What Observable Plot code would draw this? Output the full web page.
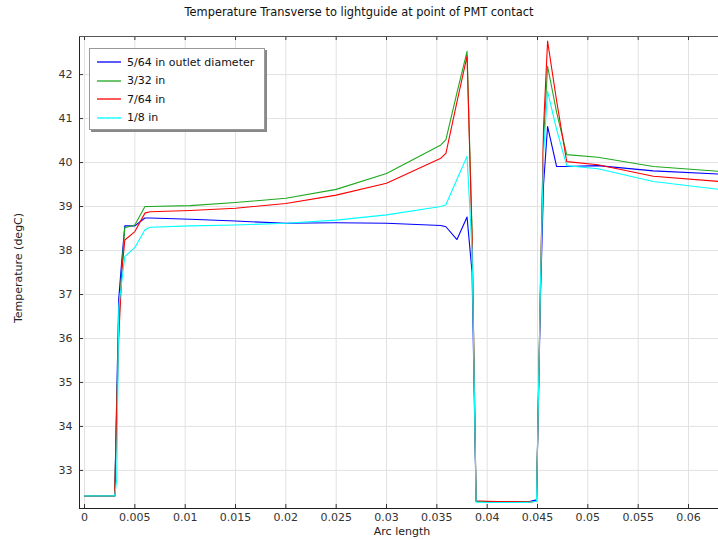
<!DOCTYPE html>
<html><head><meta charset="utf-8">
<script src="https://cdn.jsdelivr.net/npm/d3@7"></script>
<script src="https://cdn.jsdelivr.net/npm/@observablehq/plot@0.6"></script>
<style>
body{margin:0;background:#fff;font-family:"DejaVu Sans",sans-serif;}
#chart{position:relative;width:718px;height:540px;overflow:hidden;}
.lbl{position:absolute;font-size:11px;color:#222;white-space:nowrap;line-height:13px;}
#legend{position:absolute;left:89px;top:48px;width:174px;height:80px;background:#fff;border:1px solid #999;box-shadow:2px 2px 0 #888;}
.row{position:absolute;left:7px;height:14px;font-size:11px;color:#111;display:flex;align-items:center;white-space:nowrap;}
.row svg{margin-right:6px;}
</style></head><body><div id="chart"></div>
<script>
// Arc length (shared grid)
const arcLength = [0, 0.003, 0.0032, 0.0034, 0.0037, 0.004, 0.005, 0.006, 0.0065, 0.0105, 0.015, 0.02, 0.025, 0.03, 0.0354, 0.0359, 0.037, 0.038, 0.0385, 0.0389, 0.040, 0.044, 0.0449, 0.0453, 0.0456, 0.046, 0.0469, 0.0479, 0.051, 0.0565, 0.063];
// Temperatures (degC)
const t5_64 = [32.42, 32.42, 34.7, 36.9, 37.77, 38.56, 38.56, 38.74, 38.74, 38.71, 38.67, 38.62, 38.63, 38.62, 38.57, 38.54, 38.25, 38.76, 37.5, 32.30, 32.29, 32.28, 32.33, 37.0, 39.5, 40.82, 39.91, 39.91, 39.93, 39.81, 39.74];
const t3_32 = [32.42, 32.42, 34.5, 36.3, 37.6, 38.52, 38.58, 39.0, 39.0, 39.02, 39.09, 39.19, 39.39, 39.75, 40.40, 40.52, 41.59, 42.53, 38.4, 32.30, 32.29, 32.28, 32.30, 37.3, 40.5, 42.19, 41.14, 40.18, 40.12, 39.91, 39.80];
const t7_64 = [32.42, 32.42, 34.4, 36.0, 37.5, 38.24, 38.43, 38.85, 38.88, 38.91, 38.96, 39.07, 39.26, 39.53, 40.10, 40.21, 41.38, 42.42, 38.3, 32.31, 32.30, 32.28, 32.30, 37.3, 40.8, 42.76, 41.40, 40.02, 39.95, 39.69, 39.57];
const t1_8  = [32.42, 32.42, 32.8, 36.7, 37.3, 37.86, 38.07, 38.47, 38.53, 38.56, 38.58, 38.62, 38.69, 38.81, 39.0, 39.04, 39.62, 40.14, 38.0, 32.28, 32.27, 32.27, 32.30, 37.3, 40.2, 41.62, 40.75, 39.93, 39.86, 39.57, 39.39];

const seriesNames = ["5/64 in outlet diameter", "3/32 in", "7/64 in", "1/8 in"];
const seriesColors = ["#0000ff", "#1fa81f", "#ff0000", "#00ffff"];
const xTicks = [0, 0.005, 0.01, 0.015, 0.02, 0.025, 0.03, 0.035, 0.04, 0.045, 0.05, 0.055, 0.06];
const xTickLabels = ["0", "0.005", "0.01", "0.015", "0.02", "0.025", "0.03", "0.035", "0.04", "0.045", "0.05", "0.055", "0.06"];
const yTicks = [33, 34, 35, 36, 37, 38, 39, 40, 41, 42];
const xDomain = [-0.0005, 0.06298];
const yDomain = [32.134, 42.866];

const temps = [t5_64, t3_32, t7_64, t1_8];
const data = [];
seriesNames.forEach((s, k) => arcLength.forEach((x, i) => data.push({x, y: temps[k][i], s})));
const xLabel = new Map(xTicks.map((t, i) => [t, xTickLabels[i]]));

const W = 718, H = 540, mL = 79, mR = 0, mT = 36, mB = 32;
const fw = W - mL - mR, fh = H - mT - mB;

const chart = Plot.plot({
  width: W, height: H,
  marginLeft: mL, marginRight: mR, marginTop: mT, marginBottom: mB,
  style: {fontFamily: "DejaVu Sans, sans-serif", fontSize: "11px", color: "#333", background: "#fff"},
  x: {domain: xDomain},
  y: {domain: yDomain},
  color: {domain: seriesNames, range: seriesColors},
  marks: [
    Plot.gridX(xTicks, {stroke: "#e2e2e2", strokeOpacity: 1}),
    Plot.gridY(yTicks, {stroke: "#e2e2e2", strokeOpacity: 1}),
    Plot.line(data, {x: "x", y: "y", z: "s", stroke: "s", strokeWidth: 1.1, clip: true}),
    // inward ticks
    Plot.ruleX(xTicks, {stroke: "#333", insetTop: fh - 4}),
    Plot.ruleX(xTicks, {stroke: "#333", insetBottom: fh - 4}),
    Plot.ruleY(yTicks, {stroke: "#333", insetRight: fw - 4}),
    // frame lines
    Plot.ruleX([xDomain[0]], {stroke: "#222"}),
    Plot.ruleY([yDomain[0]], {stroke: "#222"}),
    Plot.ruleY([yDomain[1]], {stroke: "#555"}),
    Plot.axisX(xTicks, {anchor: "bottom", tickSize: 0, tickPadding: 5, tickFormat: d => xLabel.get(d), label: null, fill: "#333"}),
    Plot.axisY(yTicks, {anchor: "left", tickSize: 0, tickPadding: 7, label: null, fill: "#333"})
  ]
});
const root = document.getElementById("chart");
root.appendChild(chart);

function addLabel(text, css) {
  const d = document.createElement("div");
  d.className = "lbl";
  d.textContent = text;
  Object.assign(d.style, css);
  root.appendChild(d);
  return d;
}
addLabel("Temperature Transverse to lightguide at point of PMT contact", {left: "359px", top: "6px", fontSize: "11.4px", transform: "translateX(-50%)", color: "#111"});
addLabel("Arc length", {left: "402px", top: "525px", transform: "translateX(-50%)"});
addLabel("Temperature (degC)", {left: "18px", top: "268px", transform: "translate(-50%,-50%) rotate(-90deg)"});

const lg = document.createElement("div");
lg.id = "legend";
seriesNames.forEach((s, k) => {
  const r = document.createElement("div");
  r.className = "row";
  r.style.top = (6 + k * 18.5) + "px";
  r.innerHTML = `<svg width="24" height="4"><line x1="0" y1="2" x2="24" y2="2" stroke="${seriesColors[k]}" stroke-width="1.3"/></svg><span>${s}</span>`;
  lg.appendChild(r);
});
root.appendChild(lg);
</script>
</body></html>
